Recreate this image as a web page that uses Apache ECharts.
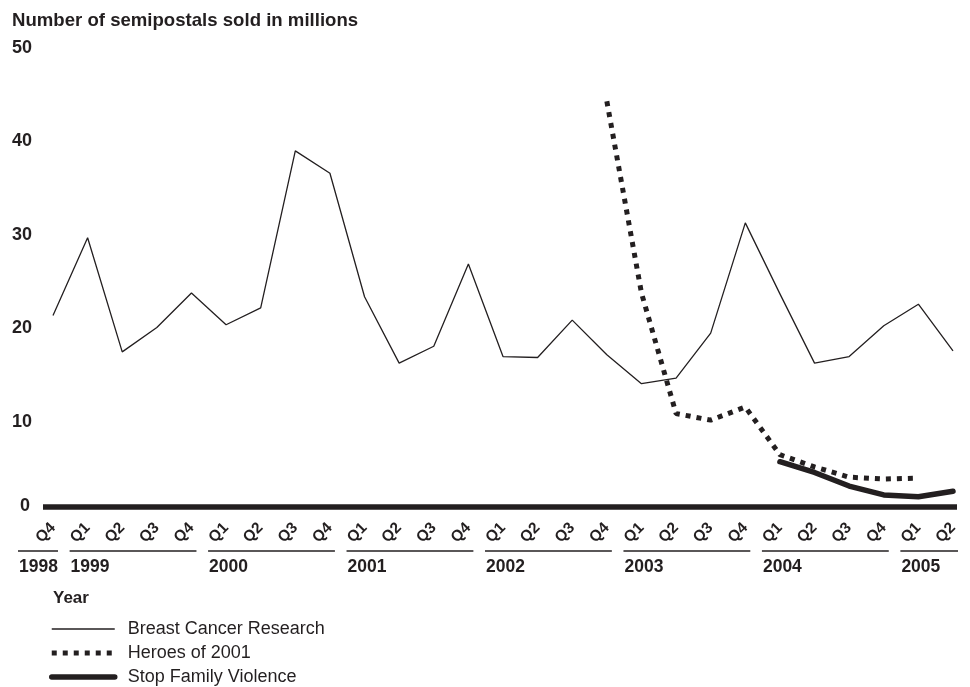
<!DOCTYPE html>
<html>
<head>
<meta charset="utf-8">
<script src="https://cdn.jsdelivr.net/npm/echarts@6/dist/echarts.min.js"></script>
<style>html,body{margin:0;padding:0;background:#fff}#c{width:970px;height:687px}</style>
</head>
<body>
<div id="c"></div>
<script>
// ---- data ----
var categories = ['1998 Q4',
  '1999 Q1','1999 Q2','1999 Q3','1999 Q4',
  '2000 Q1','2000 Q2','2000 Q3','2000 Q4',
  '2001 Q1','2001 Q2','2001 Q3','2001 Q4',
  '2002 Q1','2002 Q2','2002 Q3','2002 Q4',
  '2003 Q1','2003 Q2','2003 Q3','2003 Q4',
  '2004 Q1','2004 Q2','2004 Q3','2004 Q4',
  '2005 Q1','2005 Q2'];
var breastCancer = [21.4, 29.7, 17.5, 20.1, 23.8, 20.4, 22.2, 39.0, 36.6, 23.4, 16.3, 18.1, 26.9, 17.0, 16.9, 20.9, 17.2, 14.1, 14.7, 19.5, 31.3, 23.7, 16.3, 17.0, 20.3, 22.6, 17.6];
var heroes2001 = [null, null, null, null, null, null, null, null, null, null, null, null, null, null, null, null, 44.3, 23.8, 10.9, 10.2, 11.6, 6.5, 5.2, 4.1, 3.9, 4.0, null];
var stopViolence = [null, null, null, null, null, null, null, null, null, null, null, null, null, null, null, null, null, null, null, null, null, 5.75, 4.6, 3.15, 2.2, 2.0, 2.6];
var yearLabels = ['1998', '1999', '2000', '2001', '2002', '2003', '2004', '2005'];
var yearStart = [0, 1, 5, 9, 13, 17, 21, 25];
var yearEnd = [0, 4, 8, 12, 16, 20, 24, 26];
var seriesNames = ['Breast Cancer Research', 'Heroes of 2001', 'Stop Family Violence'];

var INK = '#231f20';
var FONT = '"Liberation Sans", Arial, Helvetica, sans-serif';

var chart = echarts.init(document.getElementById('c'), null, {renderer: 'canvas'});

var yearData = yearLabels.map(function (y, i) { return [yearStart[i], 0, yearEnd[i]]; });

var lineStyles = [
  {color: INK, width: 1.3},
  {color: INK, width: 5, type: [5, 6], cap: 'butt'},
  {color: INK, width: 5.5, cap: 'round', join: 'round'}
];

var option = {
  animation: false,
  backgroundColor: '#fff',
  title: [
    {text: 'Number of semipostals sold in millions', left: 7, top: 6,
      textStyle: {fontFamily: FONT, fontWeight: 'bold', fontSize: 18.6, color: INK}},
    {text: 'Year', left: 48, top: 585,
      textStyle: {fontFamily: FONT, fontWeight: 'bold', fontSize: 17, color: INK}}
  ],
  legend: {
    orient: 'vertical', left: 49, top: 620, padding: 0,
    itemWidth: 63, itemHeight: 18, itemGap: 6,
    data: seriesNames.map(function (n, i) {
      return {name: n, lineStyle: lineStyles[i]};
    }),
    itemStyle: {opacity: 0},
    textStyle: {fontFamily: FONT, fontSize: 18, color: INK, padding: [0, 0, 0, 8]}
  },
  grid: [
    {left: 53, right: 17, top: 48, bottom: 171.5},
    {left: 43, right: 13, top: 48, bottom: 171.5}
  ],
  xAxis: [
    {
      gridIndex: 0, type: 'category', data: categories, boundaryGap: false,
      axisLine: {show: false}, axisTick: {show: false}, splitLine: {show: false},
      axisLabel: {
        interval: 0, rotate: 45, margin: 10,
        fontFamily: FONT, fontWeight: 'bold', fontSize: 15.5, color: INK,
        formatter: function (v) { return v.split(' ')[1]; }
      }
    },
    {
      gridIndex: 1, type: 'category', data: categories, boundaryGap: false,
      offset: -9,
      axisLine: {show: true, onZero: false, lineStyle: {color: INK, width: 5.5, cap: 'butt'}},
      axisTick: {show: false}, axisLabel: {show: false}, splitLine: {show: false}
    }
  ],
  yAxis: [
    {
      gridIndex: 0, type: 'value', min: 0, max: 50, interval: 10,
      axisLine: {show: false}, axisTick: {show: false}, splitLine: {show: false},
      axisLabel: {
        margin: 21,
        fontFamily: FONT, fontWeight: 'bold', fontSize: 18, color: INK,
        formatter: function (v) { return v === 0 ? '{z|0}' : '{n|' + v + '}'; },
        rich: {
          z: {fontFamily: FONT, fontWeight: 'bold', fontSize: 18, color: INK, padding: [0, 2, 19, 0]},
          n: {fontFamily: FONT, fontWeight: 'bold', fontSize: 18, color: INK}
        }
      }
    },
    {gridIndex: 1, type: 'value', min: 0, max: 50, show: false}
  ],
  series: [
    {
      name: seriesNames[0], type: 'line', data: breastCancer,
      xAxisIndex: 0, yAxisIndex: 0,
      symbol: 'none', showSymbol: false,
      lineStyle: lineStyles[0],
      itemStyle: {color: INK}, z: 3
    },
    {
      name: seriesNames[1], type: 'line', data: heroes2001,
      xAxisIndex: 0, yAxisIndex: 0,
      symbol: 'none', showSymbol: false, connectNulls: false,
      lineStyle: lineStyles[1],
      itemStyle: {color: INK}, z: 4
    },
    {
      name: seriesNames[2], type: 'line', data: stopViolence,
      xAxisIndex: 0, yAxisIndex: 0,
      symbol: 'none', showSymbol: false,
      lineStyle: lineStyles[2],
      itemStyle: {color: INK}, z: 5
    },
    {
      type: 'custom', xAxisIndex: 0, yAxisIndex: 0, silent: true, clip: false,
      encode: {x: 0, y: 1},
      data: yearData,
      renderItem: function (params, api) {
        var p1 = api.coord([api.value(0), 0]);
        var p2 = api.coord([api.value(2), 0]);
        var x2 = p2[0] + 5;
        var x1 = p1[0] - 18;
        if (x2 - x1 < 40) { x1 = x2 - 40; }
        var yLine = p1[1] + 35.5;
        return {
          type: 'group',
          children: [
            {type: 'line', shape: {x1: x1, y1: yLine, x2: x2, y2: yLine},
              style: {stroke: INK, lineWidth: 1.5}},
            {type: 'text', style: {text: yearLabels[params.dataIndex], x: x1 + 1, y: yLine + 16,
              align: 'left', verticalAlign: 'middle', fill: INK,
              font: 'bold 17.5px ' + FONT}}
          ]
        };
      }
    }
  ]
};
chart.setOption(option);
</script>
</body>
</html>
